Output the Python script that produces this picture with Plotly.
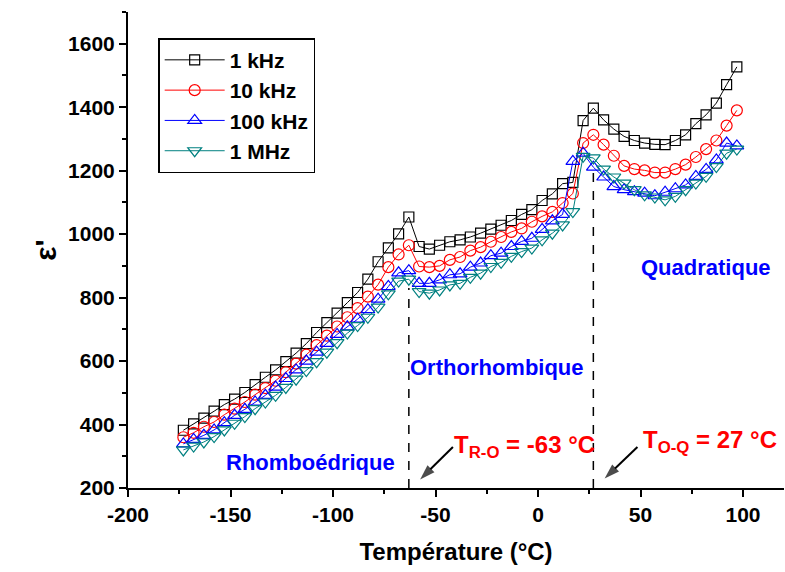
import plotly.graph_objects as go

# Temperature (°C) and real permittivity at four frequencies
temperature = [-173, -168, -163, -158, -153, -148, -143, -138, -133, -128,
               -123, -118, -113, -108, -103, -98, -93, -88, -83, -78,
               -73, -68, -63, -58, -53, -48, -43, -38, -33, -28,
               -23, -18, -13, -8, -3, 2, 7, 12, 17, 22,
               27, 32, 37, 42, 47, 52, 57, 62, 67, 72,
               77, 82, 87, 92, 97]

eps_1k = [382, 402, 420, 442, 463, 480, 501, 526, 549, 572,
          598, 625, 655, 690, 721, 751, 784, 816, 858, 913,
          957, 1001, 1054, 961, 953, 965, 976, 982, 991, 1003,
          1016, 1028, 1043, 1062, 1077, 1106, 1127, 1159, 1163, 1358,
          1397, 1360, 1331, 1308, 1295, 1287, 1283, 1282, 1295, 1313,
          1348, 1376, 1413, 1471, 1527]

eps_10k = [360, 374, 393, 408, 431, 450, 471, 494, 515, 538,
           565, 592, 620, 650, 680, 709, 738, 767, 803, 841,
           896, 936, 965, 898, 896, 900, 919, 928, 948, 959,
           976, 991, 1007, 1018, 1039, 1056, 1070, 1098, 1128, 1287,
           1313, 1282, 1247, 1215, 1205, 1201, 1194, 1194, 1205, 1219,
           1243, 1268, 1295, 1342, 1390]

eps_100k = [339, 353, 366, 383, 406, 429, 448, 471, 492, 518,
            545, 572, 600, 628, 656, 684, 708, 732, 762, 795,
            835, 878, 885, 845, 845, 856, 872, 875, 896, 909,
            932, 940, 961, 977, 987, 1015, 1042, 1062, 1229, 1255,
            1211, 1180, 1150, 1140, 1134, 1129, 1121, 1132, 1143, 1155,
            1182, 1204, 1234, 1287, 1278]

eps_1M = [320, 332, 345, 362, 383, 404, 425, 450, 471, 492,
          517, 543, 570, 598, 628, 658, 688, 712, 738, 770,
          812, 852, 858, 819, 814, 824, 840, 845, 864, 877,
          898, 911, 930, 945, 956, 982, 1003, 1029, 1071, 1245,
          1240, 1205, 1180, 1161, 1140, 1124, 1117, 1108, 1119, 1140,
          1161, 1182, 1213, 1255, 1268]

series_names = ["1 kHz", "10 kHz", "100 kHz", "1 MHz"]
series_values = [eps_1k, eps_10k, eps_100k, eps_1M]
series_colors = ["#000000", "#ff0000", "#0000ff", "#008080"]
series_symbols = ["square-open", "circle-open", "triangle-up-open", "triangle-down-open"]
series_sizes = [10, 11, 12, 12]

# Phase transition temperatures
t_ro = -63
t_oq = 27

x_ticks = [-200, -150, -100, -50, 0, 50, 100]
x_ticktext = ["-200", "-150", "-100", "-50", "0", "50", "100"]
y_ticks = [200, 400, 600, 800, 1000, 1200, 1400, 1600]

FONT = "Arial, Liberation Sans, sans-serif"

fig = go.Figure()
for name, vals, col, sym, sz in zip(series_names, series_values, series_colors,
                                    series_symbols, series_sizes):
    fig.add_trace(go.Scatter(
        x=temperature, y=vals, name=name, mode="lines+markers",
        line=dict(color=col, width=1),
        marker=dict(symbol=sym, size=sz, color=col, line=dict(color=col, width=1.2)),
    ))

# dashed transition markers
fig.add_shape(type="line", x0=t_ro, x1=t_ro, y0=200, y1=830, xref="x", yref="y",
              line=dict(color="#000000", width=1.5, dash="dash"))
fig.add_shape(type="line", x0=t_oq, x1=t_oq, y0=200, y1=1200, xref="x", yref="y",
              line=dict(color="#000000", width=1.5, dash="dash"))

# arrows pointing at the transition lines (tail -> head)
arrow_paths = [([-41.5, -57.5], [329, 227]), ([48.5, 32.5], [329, 230])]
for ax_, ay_ in arrow_paths:
    fig.add_trace(go.Scatter(
        x=ax_, y=ay_, mode="lines+markers", showlegend=False, hoverinfo="skip",
        line=dict(color="#000000", width=2),
        marker=dict(symbol=["circle", "arrow"], size=[0, 16], angleref="previous",
                    color="#000000", line=dict(width=0)),
    ))

blue_font = dict(family=FONT, size=22, color="#0000ff", weight="bold")
red_font = dict(family=FONT, size=24, color="#ff0000", weight="bold")

annotations = [
    dict(x=-111, y=279, text="Rhomboédrique", font=blue_font),
    dict(x=-20, y=581, text="Orthorhombique", font=blue_font),
    dict(x=82, y=894, text="Quadratique", font=blue_font),
    dict(x=-42, y=330, text=f"T<sub>R-O</sub> = {t_ro} °C", font=red_font, xanchor="left"),
    dict(x=50, y=346, text=f"T<sub>O-Q</sub> = {t_oq} °C", font=red_font, xanchor="left"),
]
for a in annotations:
    a.update(xref="x", yref="y", showarrow=False)
    a.setdefault("xanchor", "center")
    fig.add_annotation(**a)

axis_common = dict(
    showline=True, linecolor="#000000", linewidth=2, mirror=False,
    ticks="outside", ticklen=7, tickwidth=2, tickcolor="#000000",
    showgrid=False, zeroline=False,
    tickfont=dict(family=FONT, size=21, color="#000000", weight="bold"),
)

fig.update_xaxes(
    range=[-200, 120], tickvals=x_ticks, ticktext=x_ticktext,
    minor=dict(ticks="outside", dtick=25, ticklen=4, tickwidth=2, tickcolor="#000000"),
    title=dict(text="Température (°C)", standoff=18,
               font=dict(family=FONT, size=24, color="#000000", weight="bold")),
    **axis_common,
)
fig.update_yaxes(
    range=[200, 1700], tickvals=y_ticks,
    minor=dict(ticks="outside", dtick=100, ticklen=4, tickwidth=2, tickcolor="#000000"),
    title=dict(text="ε'", standoff=3,
               font=dict(family=FONT, size=30, color="#000000", weight="bold")),
    **axis_common,
)

fig.update_layout(
    width=785, height=572,
    margin=dict(l=128, r=1, t=12, b=84),
    paper_bgcolor="#ffffff", plot_bgcolor="#ffffff",
    showlegend=True,
    legend=dict(
        x=0.046, y=0.945, xanchor="left", yanchor="top",
        bgcolor="#ffffff", bordercolor="#000000", borderwidth=1.5,
        font=dict(family=FONT, size=21, color="#000000", weight="bold"),
        traceorder="normal", itemwidth=60,
    ),
)

fig.write_html("out.html")
